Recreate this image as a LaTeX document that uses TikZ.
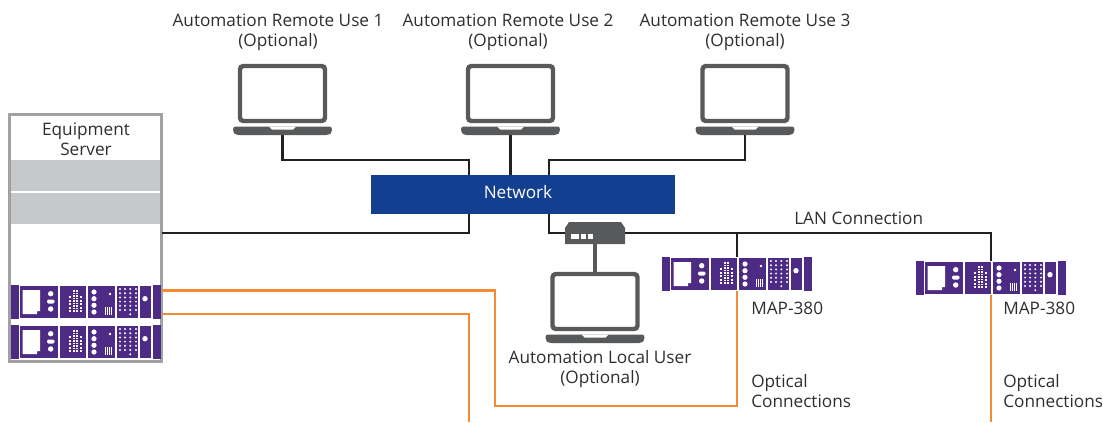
\documentclass[tikz,border=0pt]{standalone}
\usepackage{fontspec}
\setmainfont{Open Sans}
\definecolor{netblue}{HTML}{123F90}
\definecolor{rackpurple}{HTML}{4D2A84}
\definecolor{iconrgray}{HTML}{58595B}
\definecolor{barsgray}{HTML}{C7C8CA}
\definecolor{frameray}{HTML}{A0A2A5}
\definecolor{orangeln}{HTML}{F58A35}
\definecolor{blackln}{HTML}{231F20}
\definecolor{textgray}{HTML}{2E2E2E}
\tikzset{
  px/.style={x=0.75pt,y=-0.75pt},
  lbl/.style={text=textgray,font=\fontsize{12.9}{15}\selectfont,align=center,inner sep=0pt},
  lbll/.style={lbl,align=left,anchor=west},
  lapnode/.style={minimum width=74.25pt,minimum height=53.25pt,inner sep=0pt,outer sep=0pt},
  racknode/.style={minimum width=112.5pt,minimum height=25.5pt,inner sep=0pt,outer sep=0pt,anchor=north west},
  blackconn/.style={draw=blackln,line width=2.1pt},
  orangeconn/.style={draw=orangeln,line width=1.8pt},
  grayconn/.style={draw=iconrgray,line width=2.4pt},
  laptop/.pic={
    \draw[iconrgray,line width=3.3pt,rounded corners=2.5pt,fill=white] (7,2) rectangle (92,57);
    \fill[iconrgray,rounded corners=2pt] (0,62.5) -- (99,62.5) -- (99,68) -- (96,71) -- (3,71) -- (0,68) -- cycle;
    \fill[white] (36,62.5) -- (63,62.5) -- (60,65.5) -- (39,65.5) -- cycle;
  },
  rack/.pic={
    \fill[rackpurple] (0,0) rectangle (7.5,34);
    \fill[rackpurple] (142,0) rectangle (150,34);
    \fill[rackpurple] (9,1) rectangle (47,33);
    \fill[rackpurple] (49,1) rectangle (75,33);
    \fill[rackpurple] (77,1) rectangle (104,33);
    \fill[rackpurple] (106,1) rectangle (127,33);
    \fill[rackpurple] (129,1) rectangle (140,33);
    \fill[white] (11.5,5) -- (29,5) -- (29,26) -- (26,26) -- (26,29) -- (11.5,29) -- cycle;
    \fill[white] (39.7,8.7) circle[radius=2.7];
    \fill[white,rounded corners=1pt] (36,14.5) rectangle (43.5,18.5);
    \fill[white] (39.7,24) circle[radius=2.7];
    \foreach \cx in {59,69.5}{\foreach \cy in {12,15.6,19.2,22.8,26.4}{\fill[white] (\cx-1,\cy-1) rectangle (\cx+1,\cy+1);}}
    \foreach \cx in {62.5,65.5}{\foreach \cy in {5,7.5,10,12.5,15,17.5,20,22.5,25}{\fill[white] (\cx-1,\cy) rectangle (\cx+1,\cy+1.5);}}
    \foreach \cy in {7,13.7,20.3,27}{\fill[white] (83,\cy) circle[radius=2.6];}
    \fill[white] (99,9) circle[radius=1.3];
    \foreach \cx in {94,96,98,100}{\fill[white] (\cx,22) rectangle (\cx+1.3,30);}
    \foreach \cx in {109,114,119.3,125}{\foreach \cy in {4,8.2,12.4,16.6,20.8,25}{\fill[white] (\cx,\cy) circle[radius=1.1];}}
    \fill[white] (119.3,29.2) circle[radius=1.1];
    \fill[white] (134,13.7) circle[radius=2.7];
  }
}
\begin{document}
\begin{tikzpicture}[px]
\useasboundingbox (0,0) rectangle (1103,422);
% placeholder and box nodes
\node[lapnode] (l1) at (282.5,99.5) {};
\node[lapnode] (l2) at (510.5,99.5) {};
\node[lapnode] (l3) at (745,99.5) {};
\node[lapnode] (l4) at (595,307.5) {};
\node[draw=frameray,line width=2.2pt,fill=white,minimum width=114pt,minimum height=185.5pt,inner sep=0pt,outer sep=0pt] (srv) at (85.5,238) {};
\node[fill=netblue,minimum width=228pt,minimum height=29.25pt,inner sep=0pt,outer sep=0pt] (net) at (523,194.5) {};
\node[minimum width=45pt,minimum height=16.5pt,inner sep=0pt,outer sep=0pt] (sw) at (595,233) {};
\node[racknode] (r1) at (662,257) {};
\node[racknode] (r2) at (916,261) {};
\node[racknode] (s1) at (11,285) {};
\node[racknode] (s2) at (11,325) {};
% junction coordinates
\coordinate (a1) at (469,160);
\coordinate (a3) at (549,160);
\coordinate (b1) at (469,233);
\coordinate (b2) at (549,233);
\coordinate (b3) at (737,233);
\coordinate (b4) at (991,233);
\coordinate (o1) at (495,290.5);
\coordinate (o2) at (469,314);
\coordinate (o3) at (469,422);
\coordinate (o4) at (495,406);
\coordinate (o5) at (737,406);
\coordinate (o6) at (991,422);
% connectors
\draw[blackconn] (l1.south) |- (a1) -- (a1 |- net.north);
\draw[blackconn] (l2.south) -- (l2.south |- net.north);
\draw[blackconn] (l3.south) |- (a3) -- (a3 |- net.north);
\draw[blackconn] (srv.east |- b1) -- (b1) -- (b1 |- net.south);
\draw[blackconn] (b2 |- net.south) -- (b2) -- (b4) -- (b4 |- r2.north);
\draw[blackconn] (b3) -- (b3 |- r1.north);
\draw[grayconn] (sw.south) -- (l4.north);
\draw[orangeconn] (srv.east |- o1) -- (o1) -- (o4) -- (o5) -- (o5 |- r1.south);
\draw[orangeconn] (srv.east |- o2) -- (o2) -- (o3);
\draw[orangeconn] (b4 |- r2.south) -- (o6);
% gray bars in server
\fill[barsgray] (11,160) rectangle (160,190.7);
\fill[barsgray] (11,192.7) rectangle (160,224);
% icons
\pic at (233,64) {laptop};
\pic at (461,64) {laptop};
\pic at (695.5,64) {laptop};
\pic at (545.5,272) {laptop};
\fill[iconrgray] (565,228) -- (569,222) -- (621,222) -- (625,228) -- (625,244) -- (565,244) -- cycle;
\fill[white] (571,234) rectangle (579,239);
\fill[white] (581,234) rectangle (586,239);
\fill[white] (588,234) rectangle (593,239);
\pic at (662,257) {rack};
\pic at (916,261) {rack};
\pic at (11,285) {rack};
\pic at (11,325) {rack};
% labels
\node[lbl] (t1) at (278,32) {Automation Remote Use 1\\(Optional)};
\node[lbl] (t2) at (508,32) {Automation Remote Use 2\\(Optional)};
\node[lbl] (t3) at (745,32) {Automation Remote Use 3\\(Optional)};
\node[lbl] (t4) at (86,139) {Equipment\\Server};
\node[lbl,text=white] (t5) at (518,192) {Network};
\node[lbll] (t6) at (794,218) {LAN Connection};
\node[lbll] (t7) at (751,308) {MAP-380};
\node[lbll] (t8) at (1003,308) {MAP-380};
\node[lbl] (t9) at (600,369) {Automation Local User\\(Optional)};
\node[lbll] (t10) at (751,391) {Optical\\Connections};
\node[lbll] (t11) at (1003,391) {Optical\\Connections};
\end{tikzpicture}
\end{document}
